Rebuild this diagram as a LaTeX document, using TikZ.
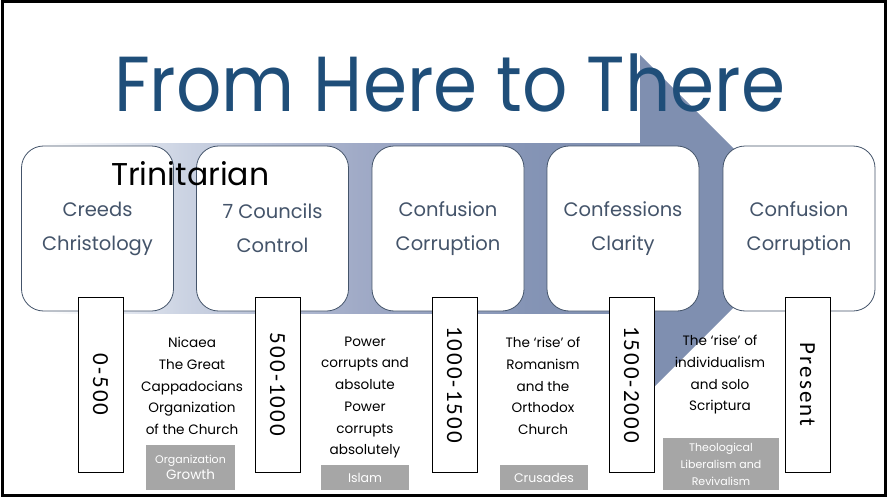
\documentclass[tikz,border=0pt]{standalone}
\usepackage{fontspec}
\setmainfont{Poppins}
\newfontfamily\datefont{Carlito}
\definecolor{titleblue}{RGB}{31,78,121}
\definecolor{slate}{RGB}{68,84,106}
\definecolor{arrowblue}{RGB}{127,143,176}
\definecolor{tagfill}{RGB}{166,166,166}
% shaft colour runs from white on the left to the arrow colour on the right
\pgfdeclarehorizontalshading{shaftshade}{100bp}{%
  rgb(0bp)=(1,1,1); rgb(27bp)=(1,1,1);
  rgb(38bp)=(0.80,0.83,0.89);
  rgb(52bp)=(0.63,0.67,0.78);
  rgb(66bp)=(0.52,0.58,0.71);
  rgb(75bp)=(0.498,0.561,0.690); rgb(100bp)=(0.498,0.561,0.690)}
\begin{document}
\begin{tikzpicture}[x=1pt,y=-1pt,
  stage/.style={draw=slate, line width=0.8pt, fill=white, rounded corners=22pt,
    minimum width=152pt, minimum height=165pt, inner sep=0pt,
    align=center, text=slate, font=\fontsize{19.5}{34}\selectfont},
  datebox/.style={draw=black, line width=0.8pt, fill=white, rotate=-90,
    minimum width=175pt, minimum height=45pt, inner sep=0pt,
    font=\datefont\fontsize{23}{24}\selectfont\addfontfeature{LetterSpace=9}},
  desc/.style={align=center, inner sep=0pt, text=black,
    font=\fontsize{13.6}{21.7}\selectfont},
  tag/.style={fill=tagfill, text=white, inner sep=0pt, align=center}]
\useasboundingbox (0,0) rectangle (888,500);

% background arrow: shaded shaft and solid head
\path[shading=shaftshade] (20,143) rectangle (641,313);
\fill[arrowblue] (640,55) -- (813,228) -- (640,401) -- cycle;

% title
\node[anchor=base west, inner sep=0pt, text=titleblue,
  font=\fontsize{78}{80}\selectfont] (title) at (114,112)
  {\scalebox{0.91}[1]{From Here to There}};

% stages
\node[stage] (s1) at (97.5,228.5) {Creeds\\Christology};
\node[stage] (s2) at (272.5,228.5) {7 Councils\\Control};
\node[stage] (s3) at (448,228.5) {Confusion\\Corruption};
\node[stage] (s4) at (623,228.5) {Confessions\\Clarity};
\node[stage] (s5) at (799,228.5) {Confusion\\Corruption};

\node[anchor=base west, inner sep=0pt, font=\fontsize{31.5}{34}\selectfont]
  (trin) at (111,185) {Trinitarian};

% periods
\node[datebox] (d1) at (100.5,384.5) {0-500};
\node[datebox] (d2) at (277.5,384.5) {500-1000};
\node[datebox] (d3) at (454.5,384.5) {1000-1500};
\node[datebox] (d4) at (631.5,384.5) {1500-2000};
\node[datebox] (d5) at (807.5,384.5) {Present};

% descriptions
\node[desc] (t1) at (192,386) {Nicaea\\The Great\\Cappadocians\\Organization\\of the Church};
\node[desc] (t2) at (365,397.5) {Power\\corrupts and\\absolute\\Power\\corrupts\\absolutely};
\node[desc] (t3) at (543,386) {The ‘rise’ of\\Romanism\\and the\\Orthodox\\Church};
\node[desc] (t4) at (720,375) {The ‘rise’ of\\individualism\\and solo\\Scriptura};

% grey tags
\node[tag, minimum width=89pt, minimum height=45pt] (g1) at (190.5,467.5)
  {{\fontsize{11}{18}\selectfont Organization}\\[2pt]{\fontsize{13.5}{18}\selectfont Growth}};
\node[tag, minimum width=88pt, minimum height=25pt,
  font=\fontsize{12.5}{14}\selectfont] (g2) at (365,477.5) {Islam};
\node[tag, minimum width=88pt, minimum height=25pt,
  font=\fontsize{12.5}{14}\selectfont] (g3) at (544,477.5) {Crusades};
\node[tag, minimum width=116pt, minimum height=52pt,
  font=\fontsize{11}{17}\selectfont] (g4) at (721,464)
  {Theological\\Liberalism and\\Revivalism};

% frame
\draw[line width=3pt] (2.5,2) rectangle (885.5,495.5);
\end{tikzpicture}
\end{document}
